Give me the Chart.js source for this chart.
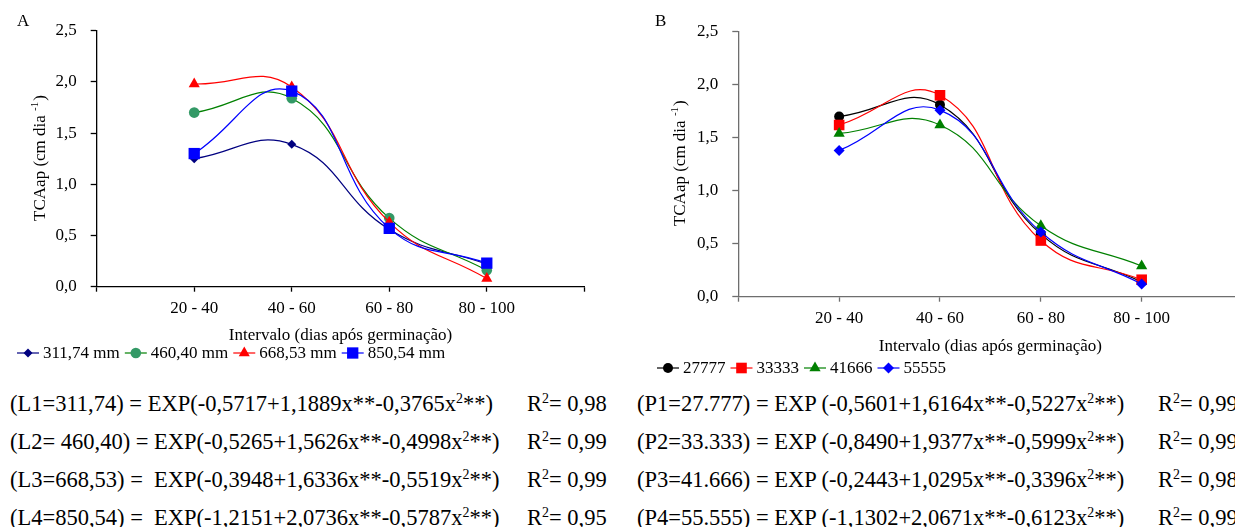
<!DOCTYPE html>
<html lang="pt">
<head>
<meta charset="UTF-8">
<title>TCAap - intervalos</title>
<script src="https://cdn.jsdelivr.net/npm/chart.js"></script>
<style>
  body { margin: 0; width: 1235px; height: 527px; overflow: hidden; background: #fff; position: relative;
         font-family: 'Liberation Serif', 'Times New Roman', serif; color: #000; }
  canvas { position: absolute; top: 0; }
  .eq { position: absolute; font-size: 22.5px; line-height: 26px; white-space: pre; }
  .eq sup { font-size: 0.62em; line-height: 0; vertical-align: 0.55em; }
</style>
</head>
<body>
<canvas id="chartA" width="620" height="380" style="left:0"></canvas>
<canvas id="chartB" width="630" height="390" style="left:620px"></canvas>
<div id="equacoes"></div>
<script>
// intervalos (dias após germinação)
const intervalos = ['20 - 40', '40 - 60', '60 - 80', '80 - 100'];

// A: lâminas de irrigação
const laminas = ['311,74 mm', '460,40 mm', '668,53 mm', '850,54 mm'];
const l311 = [1.25, 1.39, 0.56, 0.22];
const l460 = [1.70, 1.84, 0.67, 0.16];
const l668 = [1.98, 1.95, 0.63, 0.08];
const l850 = [1.30, 1.91, 0.57, 0.23];

// B: populações de plantas
const populacoes = ['27777', '33333', '41666', '55555'];
const p27777 = [1.70, 1.81, 0.59, 0.14];
const p33333 = [1.62, 1.90, 0.53, 0.16];
const p41666 = [1.54, 1.62, 0.67, 0.29];
const p55555 = [1.38, 1.76, 0.61, 0.12];

// equações de regressão
const eqRotulosA = ['L1=311,74) = ', 'L2= 460,40) = ', 'L3=668,53) =  ', 'L4=850,54) =  '];
const eqCoefA = [['-0,5717', '+1,1889', '-0,3765'], ['-0,5265', '+1,5626', '-0,4998'],
                 ['-0,3948', '+1,6336', '-0,5519'], ['-1,2151', '+2,0736', '-0,5787']];
const r2A = ['0,98', '0,99', '0,99', '0,95'];
const eqRotulosB = ['P1=27.777) = ', 'P2=33.333) = ', 'P3=41.666) = ', 'P4=55.555) = '];
const eqCoefB = [['-0,5601', '+1,6164', '-0,5227'], ['-0,8490', '+1,9377', '-0,5999'],
                 ['-0,2443', '+1,0295', '-0,3396'], ['-1,1302', '+2,0671', '-0,6123']];
const r2B = ['0,99', '0,99', '0,98', '0,99'];

const FONT = 'Liberation Serif';
Chart.defaults.font.family = FONT;
Chart.defaults.color = '#000';

function serie(label, values, line, marker, style, radius, order) {
  return {
    label,
    data: values.map((v, i) => ({ x: i + 1, y: v })),
    borderColor: line,
    backgroundColor: marker,
    pointBackgroundColor: marker,
    pointBorderColor: marker,
    pointBorderWidth: 0,
    pointStyle: style,
    pointRadius: radius,
    borderWidth: 1.2,
    tension: 0.45,
    fill: false,
    clip: false,
    order
  };
}

// título do eixo y, letra do painel e legenda
function decoracao(o) {
  return {
    id: 'decoracao',
    afterDraw(chart) {
      const ctx = chart.ctx;
      ctx.save();
      ctx.fillStyle = '#000';
      ctx.font = '17px ' + FONT;
      ctx.textBaseline = 'middle';
      ctx.fillText(o.letra, o.letraX, o.letraY);

      ctx.save();
      ctx.translate(o.tituloX, o.tituloY);
      ctx.rotate(-Math.PI / 2);
      ctx.textBaseline = 'alphabetic';
      const t1 = 'TCAap (cm dia ', t2 = '-1', t3 = ')';
      ctx.font = '17px ' + FONT;
      const w1 = ctx.measureText(t1).width, w3 = ctx.measureText(t3).width;
      ctx.font = '11px ' + FONT;
      const w2 = ctx.measureText(t2).width;
      const x = -(w1 + w2 + w3) / 2;
      ctx.font = '17px ' + FONT;
      ctx.fillText(t1, x, 0);
      ctx.font = '11px ' + FONT;
      ctx.fillText(t2, x + w1, -7);
      ctx.font = '17px ' + FONT;
      ctx.fillText(t3, x + w1 + w2 + 1, 0);
      ctx.restore();

      // legenda: linha com marcador e rótulo
      let lx = o.legX;
      const ly = o.legY;
      ctx.font = o.legFont + 'px ' + FONT;
      ctx.textBaseline = 'middle';
      chart.data.datasets.forEach((d) => {
        ctx.strokeStyle = d.borderColor;
        ctx.lineWidth = 1.2;
        ctx.beginPath();
        ctx.moveTo(lx, ly);
        ctx.lineTo(lx + 22, ly);
        ctx.stroke();
        ctx.fillStyle = d.pointBackgroundColor;
        Chart.helpers.drawPoint(ctx, { pointStyle: d.pointStyle, radius: d.pointRadius, rotation: 0, borderWidth: 0 }, lx + 11, ly);
        ctx.fillStyle = '#000';
        ctx.fillText(d.label, lx + 26, ly + 1);
        lx += 26 + ctx.measureText(d.label).width + 5;
      });
      ctx.restore();
    }
  };
}

function painel(id, area, eixoCor, series, deco, tickPad, tituloPad) {
  const canvas = document.getElementById(id);
  const W = canvas.width, H = canvas.height;
  return new Chart(canvas, {
    type: 'line',
    data: { datasets: series },
    options: {
      responsive: false,
      animation: false,
      events: [],
      layout: { padding: { left: 0, top: area.top, right: W - area.right, bottom: 0 } },
      plugins: { legend: { display: false }, tooltip: { enabled: false } },
      scales: {
        x: {
          type: 'linear', min: 0, max: 5,
          afterFit: (s) => { s.height = H - area.bottom; },
          border: { color: eixoCor, width: 1.3 },
          grid: { drawOnChartArea: false, drawTicks: true, tickLength: 5, color: eixoCor, tickWidth: 1.3 },
          ticks: {
            stepSize: 1, autoSkip: false, maxRotation: 0, padding: tickPad, color: '#000',
            font: { family: FONT, size: 17 },
            callback: (v) => (v >= 1 && v <= 4 ? intervalos[v - 1] : '')
          },
          title: {
            display: true, text: 'Intervalo (dias após germinação)', color: '#000',
            font: { family: FONT, size: 17 }, padding: { top: 0, bottom: tituloPad }
          }
        },
        y: {
          min: 0, max: 2.5,
          afterFit: (s) => { s.width = area.left; },
          border: { color: eixoCor, width: 1.3 },
          grid: { drawOnChartArea: false, drawTicks: true, tickLength: 6, color: eixoCor, tickWidth: 1.3 },
          ticks: {
            stepSize: 0.5, padding: 14, color: '#000',
            font: { family: FONT, size: 17 },
            callback: (v) => v.toFixed(1).replace('.', ',')
          }
        }
      }
    },
    plugins: [decoracao(deco)]
  });
}

painel('chartA', { left: 96.7, top: 30.7, right: 584.3, bottom: 286.7 }, '#000', [
  serie(laminas[0], l311, '#000080', '#000080', 'rectRot', 4.5, 4),
  serie(laminas[1], l460, '#008000', '#339966', 'circle', 5.3, 3),
  serie(laminas[2], l668, '#ff0000', '#ff0000', 'triangle', 6.4, 2),
  serie(laminas[3], l850, '#0000ff', '#0000ff', 'rect', 8, 1)
], { letra: 'A', letraX: 17, letraY: 22, tituloX: 45, tituloY: 158.5, legX: 17, legY: 353, legFont: 17 }, 6.5, 34.3);

painel('chartB', { left: 118.3, top: 31.7, right: 625, bottom: 296.7 }, '#6e6e6e', [
  serie(populacoes[0], p27777, '#000000', '#000000', 'circle', 5, 4),
  serie(populacoes[1], p33333, '#ff0000', '#ff0000', 'rect', 7.5, 3),
  serie(populacoes[2], p41666, '#008000', '#008000', 'triangle', 6.5, 2),
  serie(populacoes[3], p55555, '#0000ff', '#0000ff', 'rectRot', 5.5, 1)
], { letra: 'B', letraX: 35, letraY: 22, tituloX: 65, tituloY: 163.7, legX: 37, legY: 368, legFont: 17 }, 7, 32.8);

// equações abaixo dos gráficos
const caixa = document.getElementById('equacoes');
function linhaEq(x, top, rotulo, c, r2x, r2, espacoExp) {
  const eq = document.createElement('div');
  eq.className = 'eq';
  eq.style.left = x + 'px';
  eq.style.top = top + 'px';
  eq.innerHTML = '(' + rotulo + 'EXP' + espacoExp + '(' + c[0] + c[1] + 'x**' + c[2] + 'x<sup>2</sup>**)';
  caixa.appendChild(eq);
  const r = document.createElement('div');
  r.className = 'eq';
  r.style.left = r2x + 'px';
  r.style.top = top + 'px';
  r.innerHTML = 'R<sup>2</sup>= ' + r2;
  caixa.appendChild(r);
}
const topos = [391, 429, 467, 505];
topos.forEach((t, i) => {
  linhaEq(10, t, eqRotulosA[i], eqCoefA[i], 527, r2A[i], '');
  linhaEq(637, t, eqRotulosB[i], eqCoefB[i], 1158, r2B[i], ' ');
});
</script>
</body>
</html>
